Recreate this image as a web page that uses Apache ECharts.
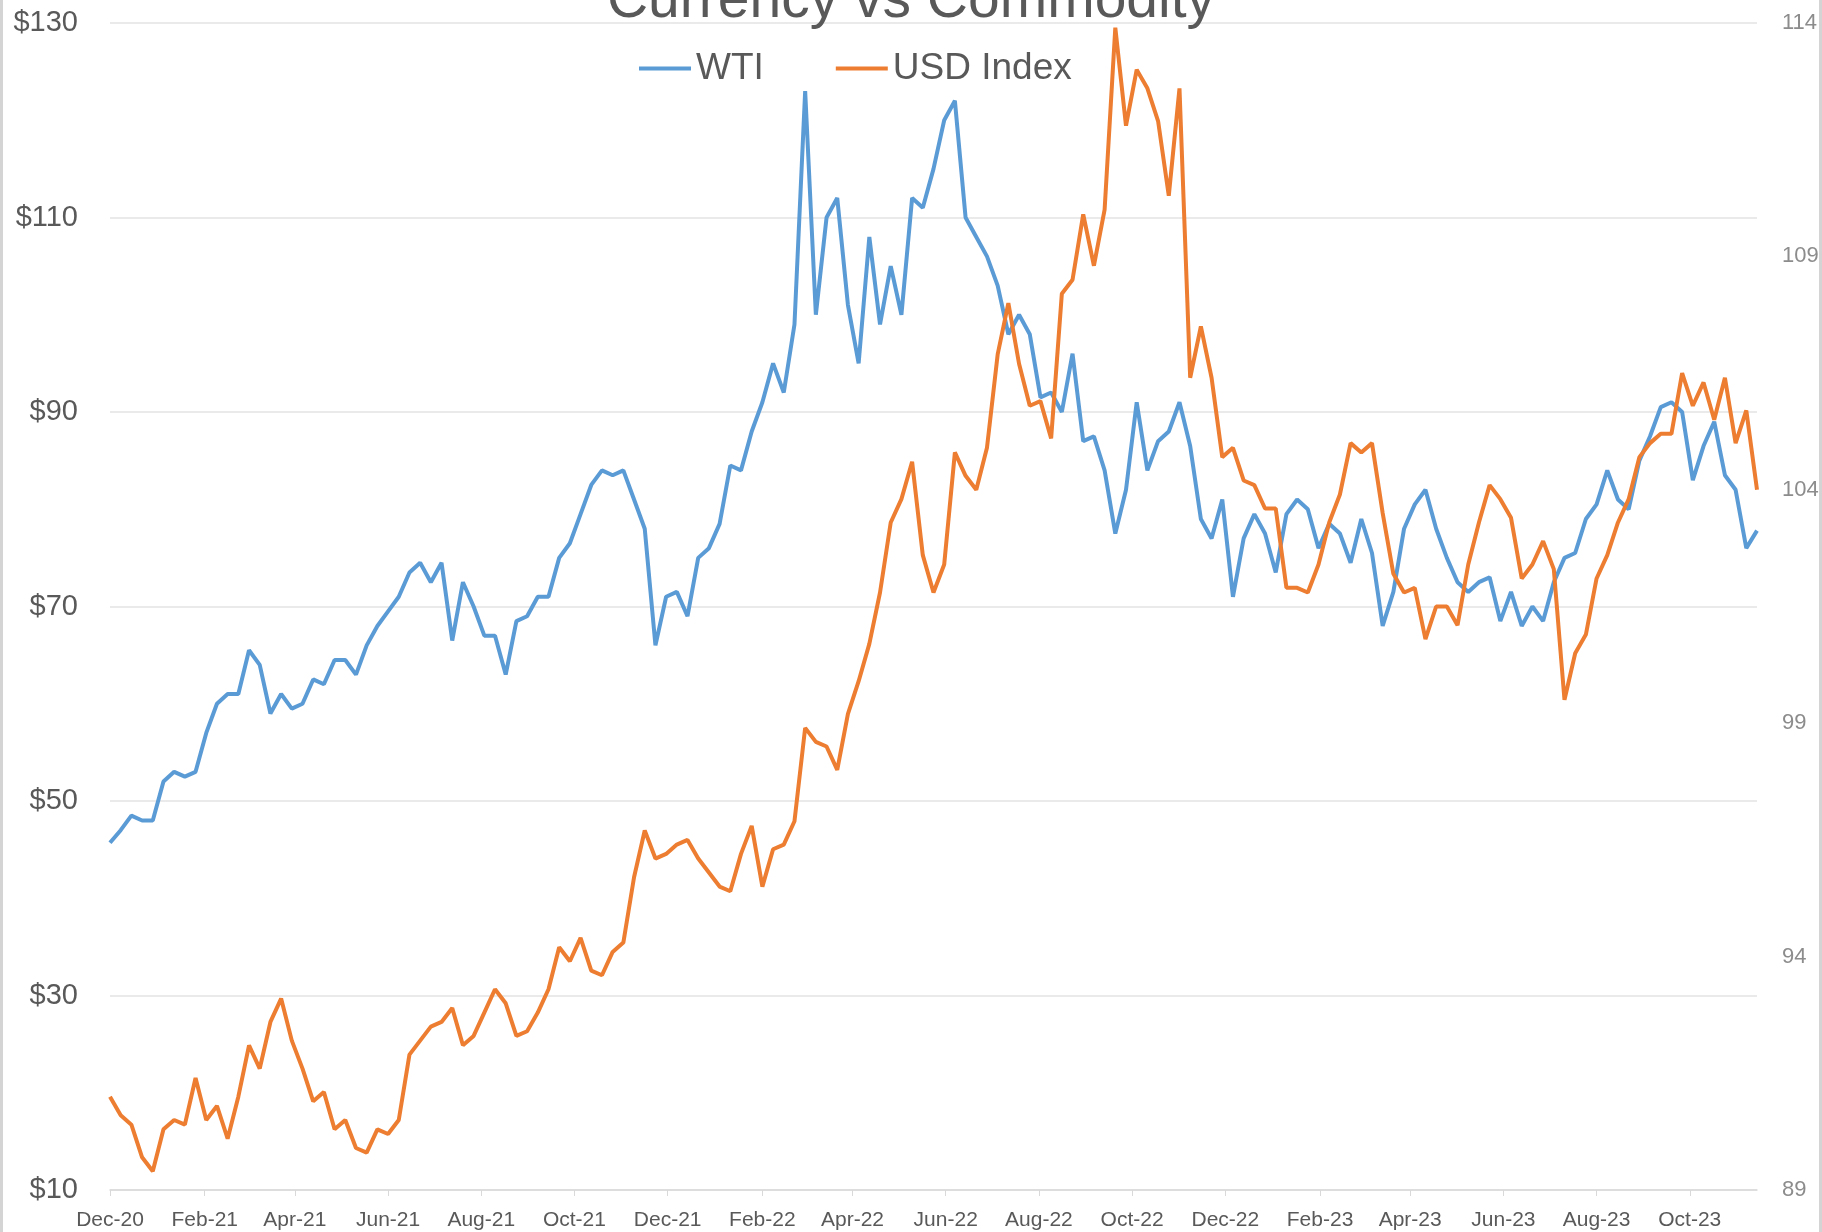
<!DOCTYPE html>
<html>
<head>
<meta charset="utf-8">
<script src="https://cdn.jsdelivr.net/npm/echarts@6/dist/echarts.min.js"></script>
<style>
    html, body { margin: 0; padding: 0; background: #fff; }
    #frame { width: 1822px; height: 1232px; box-sizing: border-box; border-left: 3px solid #d4d4d4; border-right: 3px solid #d4d4d4; }
    #main { width: 1816px; height: 1232px; }
</style>
</head>
<body>
<div id="frame"><div id="main"></div></div>
<script type="text/javascript">
// weekly closes, first week starts 1 Dec 2020
var startDate = '2020-12-01';

var wti = [
    45.7, 47, 48.5, 48, 48, 52, 53, 52.5, 53, 57,
    60, 61, 61, 65.5, 64, 59, 61, 59.5, 60, 62.5,
    62, 64.5, 64.5, 63, 66, 68, 69.5, 71, 73.5, 74.5,
    72.5, 74.5, 66.5, 72.5, 70, 67, 67, 63, 68.5, 69,
    71, 71, 75, 76.5, 79.5, 82.5, 84, 83.5, 84, 81,
    78, 66, 71, 71.5, 69, 75, 76, 78.5, 84.5, 84,
    88, 91, 95, 92, 99, 123, 100, 110, 112, 101,
    95, 108, 99, 105, 100, 112, 111, 115, 120, 122,
    110, 108, 106, 103, 98, 100, 98, 91.5, 92, 90,
    96, 87, 87.5, 84, 77.5, 82, 91, 84, 87, 88,
    91, 86.5, 79, 77, 81, 71, 77, 79.5, 77.5, 73.5,
    79.5, 81, 80, 76, 78.5, 77.5, 74.5, 79, 75.5, 68,
    71.5, 78, 80.5, 82, 78, 75, 72.5, 71.5, 72.5, 73,
    68.5, 71.5, 68, 70, 68.5, 72.5, 75, 75.5, 79, 80.5,
    84, 81, 80, 85, 87.5, 90.5, 91, 90, 83, 86.5,
    89, 83.5, 82, 76, 77.8
];

var usdIndex = [
    91.0, 90.6, 90.4, 89.7, 89.4, 90.3, 90.5, 90.4, 91.4, 90.5,
    90.8, 90.1, 91.0, 92.1, 91.6, 92.6, 93.1, 92.2, 91.6, 90.9,
    91.1, 90.3, 90.5, 89.9, 89.8, 90.3, 90.2, 90.5, 91.9, 92.2,
    92.5, 92.6, 92.9, 92.1, 92.3, 92.8, 93.3, 93.0, 92.3, 92.4,
    92.8, 93.3, 94.2, 93.9, 94.4, 93.7, 93.6, 94.1, 94.3, 95.7,
    96.7, 96.1, 96.2, 96.4, 96.5, 96.1, 95.8, 95.5, 95.4, 96.2,
    96.8, 95.5, 96.3, 96.4, 96.9, 98.9, 98.6, 98.5, 98.0, 99.2,
    99.9, 100.7, 101.8, 103.3, 103.8, 104.6, 102.6, 101.8, 102.4, 104.8,
    104.3, 104.0, 104.9, 106.9, 108.0, 106.7, 105.8, 105.9, 105.1, 108.2,
    108.5, 109.9, 108.8, 110.0, 113.9, 111.8, 113.0, 112.6, 111.9, 110.3,
    112.6, 106.4, 107.5, 106.4, 104.7, 104.9, 104.2, 104.1, 103.6, 103.6,
    101.9, 101.9, 101.8, 102.4, 103.3, 103.9, 105.0, 104.8, 105.0, 103.5,
    102.2, 101.8, 101.9, 100.8, 101.5, 101.5, 101.1, 102.4, 103.3, 104.1,
    103.8, 103.4, 102.1, 102.4, 102.9, 102.3, 99.5, 100.5, 100.9, 102.1,
    102.6, 103.3, 103.8, 104.7, 105.0, 105.2, 105.2, 106.5, 105.8, 106.3,
    105.5, 106.4, 105.0, 105.7, 104.0
];

var tickLabels = ['Dec-20', 'Feb-21', 'Apr-21', 'Jun-21', 'Aug-21', 'Oct-21', 'Dec-21', 'Feb-22', 'Apr-22',
    'Jun-22', 'Aug-22', 'Oct-22', 'Dec-22', 'Feb-23', 'Apr-23', 'Jun-23', 'Aug-23', 'Oct-23'];
var rightTicks = [89, 94, 99, 104, 109, 114];

// x is days since startDate; points are one week apart, labels sit on the 1st of the month
var DAY = 24 * 3600 * 1000;
var t0 = Date.parse(startDate + 'T00:00:00Z');
var monthNames = ['Jan', 'Feb', 'Mar', 'Apr', 'May', 'Jun', 'Jul', 'Aug', 'Sep', 'Oct', 'Nov', 'Dec'];
var labelDays = [];
var labelByDay = {};
tickLabels.forEach(function (lbl) {
    var m = monthNames.indexOf(lbl.slice(0, 3));
    var y = 2000 + parseInt(lbl.slice(4), 10);
    var d = Math.round((Date.UTC(y, m, 1) - t0) / DAY);
    labelDays.push(d);
    labelByDay[d] = lbl;
});
function toPairs(arr) {
    return arr.map(function (v, i) { return [i * 7, v]; });
}
var lastDay = (wti.length - 1) * 7;

var font = '"Liberation Sans", Arial, sans-serif';
var myChart = echarts.init(document.getElementById('main'));

var option = {
    animation: false,
    backgroundColor: '#ffffff',
    title: {
        text: 'Currency vs Commodity',
        left: 'center',
        top: -32,
        textStyle: { fontSize: 57, fontWeight: 'normal', color: '#595959', fontFamily: font }
    },
    legend: {
        left: 631,
        top: 45,
        icon: 'rect',
        itemWidth: 52,
        itemHeight: 4,
        itemGap: 72,
        textStyle: { fontSize: 37, color: '#595959', fontFamily: font },
        data: ['WTI', 'USD Index']
    },
    grid: {
        left: 107,
        right: 62,
        top: 23,
        bottom: 42,
        outerBoundsMode: 'none'
    },
    xAxis: {
        type: 'value',
        min: 0,
        max: lastDay,
        axisLine: { show: true, onZero: false, lineStyle: { color: '#d9d9d9', width: 1.5 } },
        axisTick: { show: true, customValues: labelDays, length: 6, lineStyle: { color: '#d9d9d9' } },
        axisLabel: {
            customValues: labelDays,
            margin: 20,
            fontSize: 21,
            color: '#595959',
            fontFamily: font,
            formatter: function (value) { return labelByDay[Math.round(value)] || ''; }
        },
        splitLine: { show: false }
    },
    yAxis: [
        {
            type: 'value',
            position: 'left',
            min: 10,
            max: 130,
            interval: 20,
            axisLine: { show: false },
            axisTick: { show: false },
            axisLabel: { formatter: '${value}', fontSize: 29, color: '#595959', fontFamily: font, margin: 32 },
            splitLine: { lineStyle: { color: '#e3e3e3', width: 1.5 } }
        },
        {
            type: 'value',
            position: 'right',
            min: 89,
            max: 114,
            axisLine: { show: false },
            axisTick: { show: false },
            axisLabel: { customValues: rightTicks, fontSize: 22, color: '#8c8c8c', fontFamily: font, margin: 25 },
            splitLine: { show: false }
        }
    ],
    series: [
        {
            name: 'WTI',
            type: 'line',
            yAxisIndex: 0,
            showSymbol: false,
            color: '#5b9bd5',
            lineStyle: { width: 4, color: '#5b9bd5' },
            data: toPairs(wti)
        },
        {
            name: 'USD Index',
            type: 'line',
            yAxisIndex: 1,
            showSymbol: false,
            color: '#ed7d31',
            lineStyle: { width: 4, color: '#ed7d31' },
            data: toPairs(usdIndex)
        }
    ]
};

myChart.setOption(option);
</script>
</body>
</html>
